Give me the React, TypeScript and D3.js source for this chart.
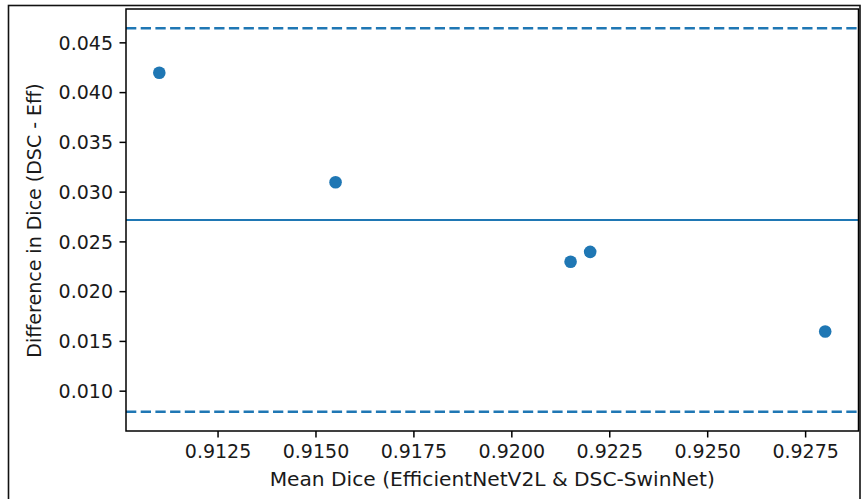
import React from "react";
import * as d3 from "d3";

const meanDice: number[] = [0.911, 0.9155, 0.9215, 0.922, 0.928];
const diffDice: number[] = [0.042, 0.031, 0.023, 0.024, 0.016];
const xTicks: number[] = [0.9125, 0.915, 0.9175, 0.92, 0.9225, 0.925, 0.9275];
const yTicks: number[] = [0.01, 0.015, 0.02, 0.025, 0.03, 0.035, 0.04, 0.045];
const xLabel = "Mean Dice (EfficientNetV2L & DSC-SwinNet)";
const yLabel = "Difference in Dice (DSC - Eff)";

const W = 861;
const H = 499;
const L = 126;
const R = 858.5;
const T = 9;
const B = 431;
const BLUE = "#1f77b4";
const FONT = "DejaVu Sans, sans-serif";
const FS = 19;

export default function App() {
  const md = d3.mean(diffDice) as number;
  const sd = d3.deviation(diffDice) as number;
  const lo = md - 1.96 * sd;
  const hi = md + 1.96 * sd;

  const pad = (a: number, b: number): [number, number] => {
    const r = b - a;
    return [a - 0.05 * r, b + 0.05 * r];
  };
  const [xa, xb] = d3.extent(meanDice) as [number, number];
  const x = d3.scaleLinear().domain(pad(xa, xb)).range([L, R]);
  const y = d3.scaleLinear().domain(pad(lo, hi)).range([B, T]);

  const tickLen = 6.5;
  const tickPad = 6.5;

  return (
    <svg
      width={W}
      height={H}
      style={{ position: "absolute", left: 0, top: 0, background: "#fff" }}
      fontFamily={FONT}
    >
      <rect x={0} y={0} width={W} height={H} fill="#fff" />
      {/* outer frame */}
      <rect x={8.5} y={5.5} width={851.5} height={520} fill="none" stroke="#111" strokeWidth={1.6} />

      {/* reference lines */}
      <line x1={L} x2={R} y1={y(md)} y2={y(md)} stroke={BLUE} strokeWidth={2.2} />
      <line x1={L} x2={R} y1={y(hi)} y2={y(hi)} stroke={BLUE} strokeWidth={2.6} strokeDasharray="10.3 4.4" />
      <line x1={L} x2={R} y1={y(lo)} y2={y(lo)} stroke={BLUE} strokeWidth={2.6} strokeDasharray="10.3 4.4" />

      {/* points */}
      {meanDice.map((m, i) => (
        <circle key={i} cx={x(m)} cy={y(diffDice[i])} r={6.3} fill={BLUE} />
      ))}

      {/* spines */}
      <rect x={L} y={T} width={R - L} height={B - T} fill="none" stroke="#000" strokeWidth={1.5} />

      {/* x ticks */}
      {xTicks.map((t) => (
        <g key={"x" + t}>
          <line x1={x(t)} x2={x(t)} y1={B} y2={B + tickLen} stroke="#000" strokeWidth={1.5} />
          <text x={x(t)} y={458} textAnchor="middle" fontSize={FS} fill="#1a1a1a">
            {t.toFixed(4)}
          </text>
        </g>
      ))}

      {/* y ticks */}
      {yTicks.map((t) => (
        <g key={"y" + t}>
          <line x1={L - tickLen} x2={L} y1={y(t)} y2={y(t)} stroke="#000" strokeWidth={1.5} />
          <text
            x={L - tickLen - tickPad}
            y={y(t)}
            dy="0.35em"
            textAnchor="end"
            fontSize={FS}
            fill="#1a1a1a"
          >
            {t.toFixed(3)}
          </text>
        </g>
      ))}

      {/* axis labels */}
      <text x={(L + R) / 2} y={486} textAnchor="middle" fontSize={20.2} fill="#1a1a1a">
        {xLabel}
      </text>
      <text
        transform={`translate(41,${(T + B) / 2 + 0.5}) rotate(-90)`}
        textAnchor="middle"
        fontSize={FS}
        fill="#1a1a1a"
      >
        {yLabel}
      </text>
    </svg>
  );
}
